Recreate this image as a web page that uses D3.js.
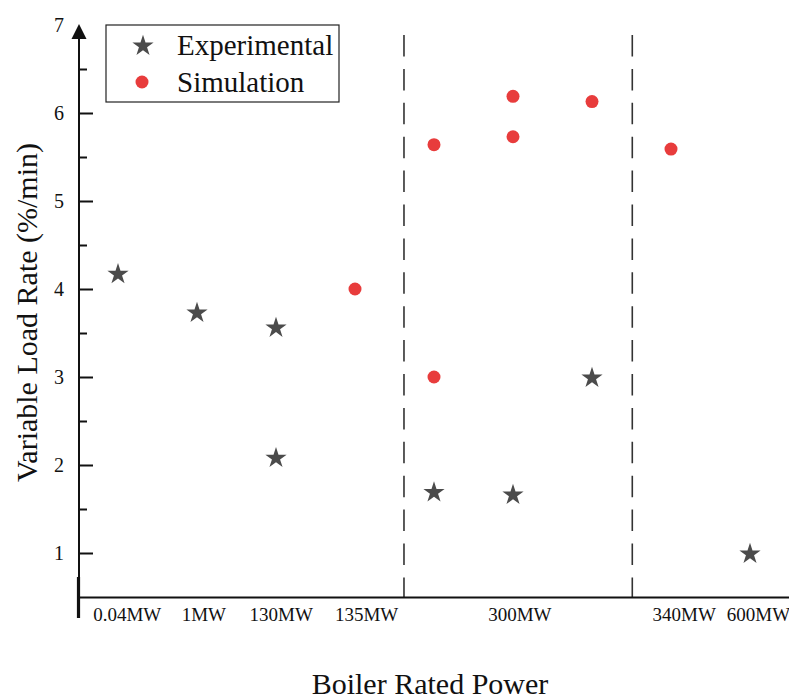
<!DOCTYPE html>
<html>
<head>
<meta charset="utf-8">
<script src="https://cdn.jsdelivr.net/npm/d3@7/dist/d3.min.js"></script>
<style>
  html, body { margin: 0; padding: 0; background: #fff; }
  svg { display: block; }
  text { font-family: "Liberation Serif", "Times New Roman", serif; fill: #111; }
</style>
</head>
<body>
<svg id="chart" width="789" height="700"></svg>
<script>
// ---- data ----
const categories = ["0.04MW", "1MW", "130MW", "135MW", "300MW", "340MW", "600MW"];
const categorySlots = [0.11, 1.08, 2.06, 3.14, 5.08, 7.16, 8.10];
const yTickValues = [1, 2, 3, 4, 5, 6, 7];
const yMinorValues = [1.5, 2.5, 3.5, 4.5, 5.5, 6.5];
const dividerSlots = [3.62, 6.51];

const expSlots  = [0, 1, 2, 2, 4, 5, 6, 8];
const expValues = [4.18, 3.74, 3.57, 2.09, 1.70, 1.67, 3.00, 1.00];
const simSlots  = [3, 4, 4, 5, 5, 6, 7];
const simValues = [4.00, 5.64, 3.00, 6.19, 5.73, 6.13, 5.59];

const seriesNames = ["Experimental", "Simulation"];

// ---- layout ----
const svg = d3.select("#chart");
const x = d3.scaleLinear().domain([-0.5, 8.5]).range([78.5, 789.5]);
const y = d3.scaleLinear().domain([0.5, 7]).range([597, 25]);
const axisX = 79;
const starColor = "#4b4b4b";
const simColor = "#e83c3c";

// dashed dividers
svg.append("g").selectAll("line").data(dividerSlots).join("line")
  .attr("x1", d => x(d)).attr("x2", d => x(d))
  .attr("y1", 35).attr("y2", y(0.5))
  .attr("stroke", "#333").attr("stroke-width", 1.6)
  .attr("stroke-dasharray", "21.5,12.4");

// x axis
const gx = svg.append("g").attr("transform", `translate(0,${y(0.5)})`)
  .call(d3.axisBottom(x).tickValues(categorySlots)
    .tickFormat((d, i) => categories[i]).tickSize(0).tickSizeOuter(0).tickPadding(10.5));
gx.select(".domain").attr("stroke", "#111").attr("stroke-width", 2);
gx.selectAll("text").style("font-size", "19px").attr("fill", "#111")
  .style("font-family", '"Liberation Serif", serif');

// y axis major ticks (inside)
const gyMaj = svg.append("g").attr("transform", `translate(${axisX},0)`)
  .call(d3.axisRight(y).tickValues(yTickValues.filter(v => v < 7)).tickSize(14).tickFormat(""));
gyMaj.select(".domain").remove();
gyMaj.selectAll("line").attr("stroke", "#111").attr("stroke-width", 2);

const gyMin = svg.append("g").attr("transform", `translate(${axisX},0)`)
  .call(d3.axisRight(y).tickValues(yMinorValues).tickSize(8).tickFormat(""));
gyMin.select(".domain").remove();
gyMin.selectAll("line").attr("stroke", "#111").attr("stroke-width", 2);

// y labels
const gyLab = svg.append("g").attr("transform", `translate(${axisX},0)`)
  .call(d3.axisLeft(y).tickValues(yTickValues).tickSize(0).tickPadding(15).tickFormat(d3.format("d")));
gyLab.select(".domain").remove();
gyLab.selectAll("text").style("font-size", "20px").attr("fill", "#222")
  .style("font-family", '"Liberation Serif", serif');

// y axis line + arrow
svg.append("line").attr("x1", axisX).attr("x2", axisX).attr("y1", 38).attr("y2", 577)
  .attr("stroke", "#111").attr("stroke-width", 2);
svg.append("line").attr("x1", axisX - 0.5).attr("x2", axisX - 0.5).attr("y1", 577).attr("y2", 618)
  .attr("stroke", "#111").attr("stroke-width", 3.2);
svg.append("path")
  .attr("d", `M${axisX},${y(7) - 1} L${axisX - 7.5},${y(7) + 14} L${axisX + 7.5},${y(7) + 14} Z`)
  .attr("fill", "#111");

// points
const star = d3.symbol().type(d3.symbolStar).size(140);
const circle = d3.symbol().type(d3.symbolCircle).size(Math.PI * 6.5 * 6.5);

svg.append("g").selectAll("path").data(simValues).join("path")
  .attr("d", circle)
  .attr("transform", (d, i) => `translate(${x(simSlots[i])},${y(d)})`)
  .attr("fill", simColor);

svg.append("g").selectAll("path").data(expValues).join("path")
  .attr("d", star)
  .attr("transform", (d, i) => `translate(${x(expSlots[i])},${y(d) + 1})`)
  .attr("fill", starColor);

// axis titles
svg.append("text").attr("x", 430).attr("y", 694).attr("text-anchor", "middle")
  .style("font-size", "30px").text("Boiler Rated Power");
svg.append("text").attr("transform", "translate(37,312.5) rotate(-90)").attr("text-anchor", "middle")
  .style("font-size", "30px").text("Variable Load Rate (%/min)");

// legend
const lg = svg.append("g");
lg.append("rect").attr("x", 106).attr("y", 25).attr("width", 233).attr("height", 77)
  .attr("fill", "#fff").attr("stroke", "#222").attr("stroke-width", 1.2);
lg.append("path").attr("d", star).attr("transform", "translate(143,46)").attr("fill", starColor);
lg.append("path").attr("d", circle).attr("transform", "translate(142,82)").attr("fill", simColor);
lg.selectAll("text").data(seriesNames).join("text")
  .attr("x", 177).attr("y", (d, i) => 55 + i * 37)
  .style("font-size", "29px").text(d => d);
</script>
</body>
</html>
